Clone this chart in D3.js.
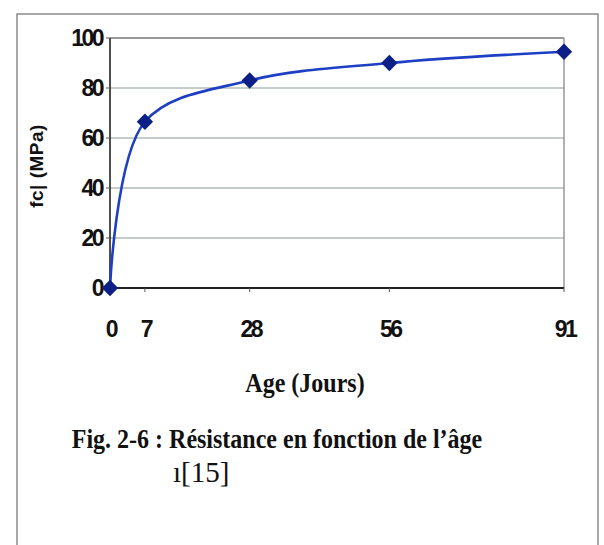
<!DOCTYPE html>
<html>
<head>
<meta charset="utf-8">
<script src="https://cdn.jsdelivr.net/npm/d3@7"></script>
<style>
  body { margin: 0; background: #fff; }
  .tick-lbl { font-family: "Liberation Sans", Arial, sans-serif; font-weight: bold; font-size: 23px; letter-spacing: -2.5px; fill: #111; }
</style>
</head>
<body>
<div id="chart"></div>
<script>
// data
const ages = [0, 7, 28, 56, 91];
const fcj = [0, 66.5, 83, 90, 94.5];
const yTicks = [0, 20, 40, 60, 80, 100];

const width = 604, height = 545;
const plot = {left: 110, top: 38, right: 564, bottom: 288};

const svg = d3.select("#chart").append("svg")
    .attr("width", width)
    .attr("height", height);

// outer frame (extends past the bottom edge like the scan)
svg.append("rect")
    .attr("x", 17).attr("y", 14)
    .attr("width", 581).attr("height", 560)
    .attr("fill", "none")
    .attr("stroke", "#8a8a8a")
    .attr("stroke-width", 1.5);

const x = d3.scaleLinear().domain([0, 91]).range([plot.left, plot.right]);
const y = d3.scaleLinear().domain([0, 100]).range([plot.bottom, plot.top]);

// gridlines
svg.append("g")
    .selectAll("line")
    .data(yTicks.filter(d => d > 0))
    .enter().append("line")
    .attr("x1", plot.left).attr("x2", plot.right)
    .attr("y1", d => y(d)).attr("y2", d => y(d))
    .attr("stroke", d => d === 100 ? "#777" : "#b3bcb6")
    .attr("stroke-width", 1.3);

// right border of plot area
svg.append("line")
    .attr("x1", plot.right).attr("x2", plot.right)
    .attr("y1", plot.top).attr("y2", plot.bottom)
    .attr("stroke", "#888").attr("stroke-width", 1.3);

// axes
svg.append("line")
    .attr("x1", plot.left).attr("x2", plot.left)
    .attr("y1", plot.top).attr("y2", plot.bottom)
    .attr("stroke", "#222").attr("stroke-width", 1.6);
svg.append("line")
    .attr("x1", plot.left).attr("x2", plot.right)
    .attr("y1", plot.bottom).attr("y2", plot.bottom)
    .attr("stroke", "#222").attr("stroke-width", 2);

// x tick marks
svg.append("g")
    .selectAll("line")
    .data(ages)
    .enter().append("line")
    .attr("x1", d => x(d)).attr("x2", d => x(d))
    .attr("y1", plot.bottom).attr("y2", plot.bottom + 4)
    .attr("stroke", "#555").attr("stroke-width", 1);

// y tick marks
svg.append("g")
    .selectAll("line")
    .data(yTicks)
    .enter().append("line")
    .attr("x1", plot.left - 4).attr("x2", plot.left)
    .attr("y1", d => y(d)).attr("y2", d => y(d))
    .attr("stroke", "#555").attr("stroke-width", 1);

// y labels
svg.append("g")
    .selectAll("text")
    .data(yTicks)
    .enter().append("text")
    .attr("class", "tick-lbl")
    .attr("x", plot.left - 8)
    .attr("y", d => y(d) + 8)
    .attr("text-anchor", "end")
    .text(d => d);

// x labels
svg.append("g")
    .selectAll("text")
    .data(ages)
    .enter().append("text")
    .attr("class", "tick-lbl")
    .attr("x", d => x(d) + 1)
    .attr("y", 337)
    .attr("text-anchor", "middle")
    .text(d => d);

// curve
const pts = ages.map((a, i) => [a, fcj[i]]);
svg.append("path")
    .datum(pts)
    .attr("fill", "none")
    .attr("stroke", "#1d3fc4")
    .attr("stroke-width", 2.6)
    .attr("d", d3.line()
        .x(d => x(d[0]))
        .y(d => y(d[1]))
        .curve(d3.curveCatmullRom.alpha(0.5)));

// markers
svg.append("g")
    .selectAll("path")
    .data(pts)
    .enter().append("path")
    .attr("transform", d => "translate(" + x(d[0]) + "," + y(d[1]) + ")")
    .attr("d", d3.symbol().type(d3.symbolDiamond2).size(170))
    .attr("fill", "#0b1f86");

// y title
svg.append("text")
    .attr("transform", "translate(43,166) rotate(-90)")
    .attr("text-anchor", "middle")
    .style("font-family", "Liberation Sans, Arial, sans-serif")
    .style("font-weight", "bold")
    .style("font-size", "19px")
    .style("letter-spacing", "0.5px")
    .attr("fill", "#111")
    .text("fc| (MPa)");

// x title
svg.append("text")
    .attr("transform", "translate(305,392) scale(1,1.12)")
    .attr("text-anchor", "middle")
    .style("font-family", "Liberation Serif, Times New Roman, serif")
    .style("font-weight", "bold")
    .style("font-size", "24px")
    .attr("fill", "#111")
    .text("Age (Jours)");

// caption
svg.append("text")
    .attr("transform", "translate(277,448) scale(1,1.12)")
    .attr("text-anchor", "middle")
    .style("font-family", "Liberation Serif, Times New Roman, serif")
    .style("font-weight", "bold")
    .style("font-size", "24px")
    .attr("fill", "#111")
    .text("Fig. 2-6 : Résistance en fonction de l’âge");

svg.append("text")
    .attr("x", 173).attr("y", 482)
    .style("font-family", "Liberation Serif, Times New Roman, serif")
    .style("font-size", "29px")
    .attr("fill", "#111")
    .text("ı[15]");
</script>
</body>
</html>
